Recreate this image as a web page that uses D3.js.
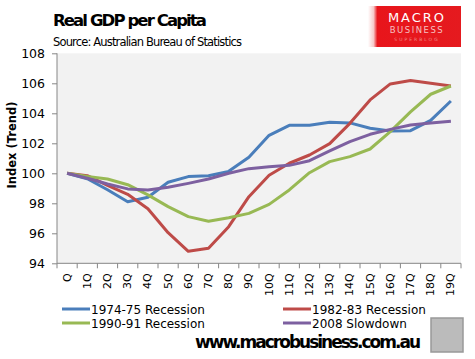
<!DOCTYPE html>
<html><head><meta charset="utf-8">
<script src="https://cdn.jsdelivr.net/npm/d3@7"></script>
<style>body{margin:0;background:#fff}svg{display:block}</style>
</head><body>
<script>
const categories = ["Q","1Q","2Q","3Q","4Q","5Q","6Q","7Q","8Q","9Q","10Q","11Q","12Q","13Q","14Q","15Q","16Q","17Q","18Q","19Q"];
const rec1974 = [100,99.64,98.9,98.1,98.4,99.4,99.78,99.84,100.13,101.07,102.53,103.2,103.2,103.4,103.36,103.0,102.82,102.84,103.53,104.82];
const rec1982 = [100,99.84,99.2,98.6,97.64,96.04,94.8,95.0,96.44,98.44,99.87,100.67,101.22,101.98,103.33,104.89,105.96,106.18,106.0,105.82];
const rec1990 = [100,99.78,99.62,99.24,98.56,97.78,97.11,96.8,97.04,97.33,97.93,98.89,100.04,100.78,101.11,101.62,102.78,104.09,105.27,105.82];
const slow2008 = [100,99.67,99.29,98.96,98.89,99.07,99.33,99.62,100.0,100.31,100.44,100.53,100.84,101.49,102.11,102.6,102.93,103.22,103.36,103.47];
const seriesNames = ["1974-75 Recession","1982-83 Recession","1990-91 Recession","2008 Slowdown"];
const yTicks = [94,96,98,100,102,104,106,108];
const colors = ["#4A7EBB","#BE4B48","#98B954","#7D60A0"];
const series = [rec1974, rec1982, rec1990, slow2008];

const W=475,H=359;
const svg=d3.select("body").append("svg").attr("width",W).attr("height",H);
const L=57,R=461,T=53.3,B=263.3;
const x=d3.scaleBand().domain(categories).range([L,R]);
const y=d3.scaleLinear().domain([94,108]).range([B,T]);

svg.append("rect").attr("x",L).attr("y",T).attr("width",R-L).attr("height",B-T).attr("fill","#F2F2F2");

// y axis
const ya=svg.append("g").attr("transform",`translate(${L},0)`).call(d3.axisLeft(y).tickValues(yTicks).tickSize(5).tickPadding(7).tickFormat(d3.format("d")));
ya.select(".domain").attr("stroke","#868686").attr("d",`M0,${T}V${B}`);
ya.selectAll(".tick line").attr("stroke","#868686");
ya.selectAll("text").attr("font-family","Verdana, 'DejaVu Sans', sans-serif").attr("font-size",12.5).attr("fill","#000");

// x axis
const xa=svg.append("g").attr("transform",`translate(0,${B})`).call(d3.axisBottom(x).tickSize(0).tickFormat(d=>d));
xa.select(".domain").attr("stroke","#868686").attr("d",`M${L},0H${R}`);
const bounds=d3.range(categories.length+1).map(i=>L+i*x.step());
xa.selectAll(".bt").data(bounds).join("line").attr("x1",d=>d).attr("x2",d=>d).attr("y1",0).attr("y2",5).attr("stroke","#868686");
xa.selectAll(".tick text").attr("transform","rotate(-90)").attr("text-anchor","end").attr("dominant-baseline","central")
  .attr("x",-10).attr("y",0).attr("dy",null).attr("font-family","Verdana, 'DejaVu Sans', sans-serif").attr("font-size",11).attr("fill","#000");

// lines
const line=d3.line().x((d,i)=>x(categories[i])+x.bandwidth()/2).y(d=>y(d));
series.forEach((s,k)=>{
  svg.append("path").datum(s).attr("d",line).attr("fill","none").attr("stroke",colors[k]).attr("stroke-width",3).attr("stroke-linejoin","round");
});

// y label
svg.append("text").attr("transform","translate(16,145) rotate(-90)").attr("text-anchor","middle")
  .attr("font-family","Verdana, 'DejaVu Sans', sans-serif").attr("font-weight","bold").attr("font-size",11.5).text("Index (Trend)");

// title
svg.append("text").attr("x",53).attr("y",26).attr("font-family","Verdana, 'DejaVu Sans', sans-serif").attr("font-weight","bold").attr("font-size",16.5).attr("textLength",154).text("Real GDP per Capita");
svg.append("text").attr("x",53).attr("y",46).attr("font-family","Verdana, 'DejaVu Sans', sans-serif").attr("font-size",11.5).attr("textLength",189).text("Source: Australian Bureau of Statistics");

// logo
const defs=svg.append("defs");
const g=defs.append("linearGradient").attr("id","lg").attr("x1","0").attr("x2","1");
g.append("stop").attr("offset","0").attr("stop-color","#fff");
g.append("stop").attr("offset","0.06").attr("stop-color","#f7c9c9");
g.append("stop").attr("offset","0.1").attr("stop-color","#E8151B");
g.append("stop").attr("offset","1").attr("stop-color","#E51A1F");
svg.append("rect").attr("x",368).attr("y",6).attr("width",93).attr("height",41).attr("fill","url(#lg)");
svg.append("text").attr("x",417).attr("y",22).attr("text-anchor","middle").attr("fill","#fff").attr("font-family","'DejaVu Sans', sans-serif").attr("font-size",13).attr("letter-spacing",2).text("MACRO");
svg.append("text").attr("x",417).attr("y",33).attr("text-anchor","middle").attr("fill","#f6c0c0").attr("font-family","'DejaVu Sans', sans-serif").attr("font-size",8.5).attr("letter-spacing",1.5).text("BUSINESS");
svg.append("text").attr("x",417).attr("y",41).attr("text-anchor","middle").attr("fill","#e88").attr("font-family","'DejaVu Sans', sans-serif").attr("font-size",4.5).attr("letter-spacing",2).text("SUPERBLOG");

// legend
const legPos=[[62,309],[283,309],[62,323],[283,323]];
seriesNames.forEach((n,k)=>{
  const [lx,ly]=legPos[k];
  svg.append("line").attr("x1",lx).attr("x2",lx+28).attr("y1",ly).attr("y2",ly).attr("stroke",colors[k]).attr("stroke-width",3);
  svg.append("text").attr("x",lx+29).attr("y",ly+4.5).attr("font-family","Verdana, 'DejaVu Sans', sans-serif").attr("font-size",12).text(n);
});

// footer
svg.append("text").attr("x",195).attr("y",348).attr("font-family","Verdana, 'DejaVu Sans', sans-serif").attr("font-weight","bold").attr("font-size",17).attr("textLength",226).text("www.macrobusiness.com.au");
svg.append("rect").attr("x",431).attr("y",318).attr("width",32).attr("height",34).attr("fill","#bbb").attr("stroke","#999").attr("stroke-width",1.5);
</script>
</body></html>
